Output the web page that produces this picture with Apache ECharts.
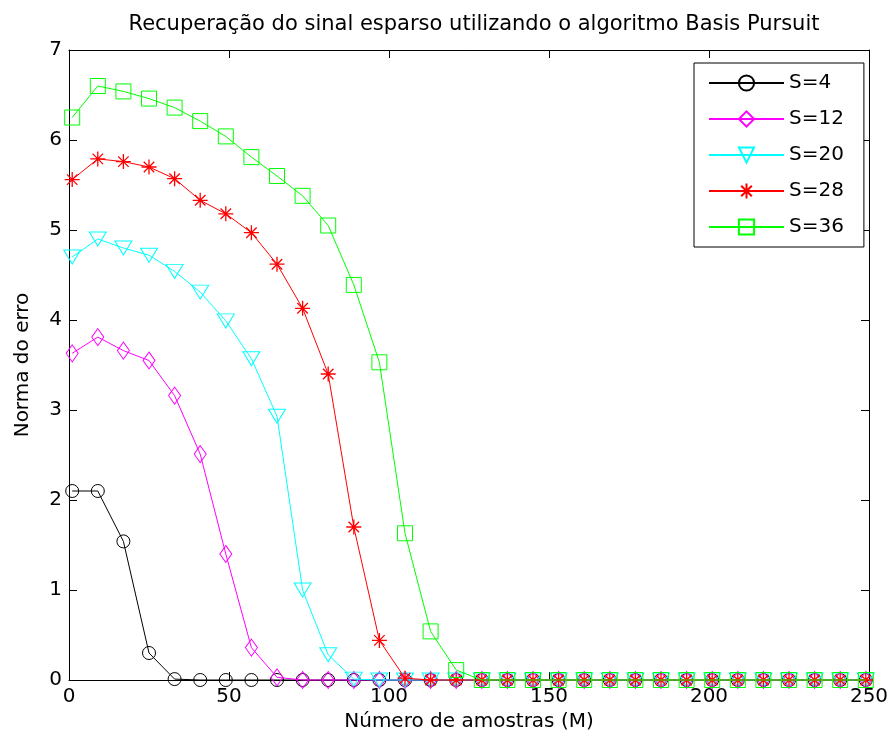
<!DOCTYPE html>
<html>
<head>
<meta charset="utf-8">
<script src="https://cdn.jsdelivr.net/npm/echarts@6/dist/echarts.min.js"></script>
<style>html,body{margin:0;padding:0;background:#fff;}#c{width:889px;height:747px;}</style>
</head>
<body>
<div id="c"></div>
<script>
const titleText = 'Recuperação do sinal esparso utilizando o algoritmo Basis Pursuit';
const xName = 'Número de amostras (M)';
const yName = 'Norma do erro';
const seriesNames = ['S=4', 'S=12', 'S=20', 'S=28', 'S=36'];
const M = [1,9,17,25,33,41,49,57,65,73,81,89,97,105,113,121,129,137,145,153,161,169,177,185,193,201,209,217,225,233,241,249];
const S4  = [2.10,2.10,1.54,0.30,0.01,0,0,0,0,0,0,0,0,0,0,0,0,0,0,0,0,0,0,0,0,0,0,0,0,0,0,0];
const S12 = [3.63,3.81,3.66,3.55,3.16,2.51,1.40,0.36,0.03,0,0,0,0,0,0,0,0,0,0,0,0,0,0,0,0,0,0,0,0,0,0,0];
const S20 = [4.70,4.90,4.80,4.72,4.54,4.31,3.99,3.57,2.93,1.00,0.28,0.01,0,0,0,0,0,0,0,0,0,0,0,0,0,0,0,0,0,0,0,0];
const S28 = [5.56,5.79,5.76,5.70,5.57,5.33,5.18,4.97,4.62,4.13,3.40,1.70,0.44,0.02,0,0,0,0,0,0,0,0,0,0,0,0,0,0,0,0,0,0];
const S36 = [6.25,6.60,6.54,6.46,6.36,6.21,6.04,5.81,5.60,5.38,5.05,4.39,3.53,1.63,0.54,0.11,0,0,0,0,0,0,0,0,0,0,0,0,0,0,0,0];
const xTicks = [0, 50, 100, 150, 200, 250];
const yTicks = [0, 1, 2, 3, 4, 5, 6, 7];

const FONT = 'DejaVu Sans';
const colors = ['#000000', '#ff00ff', '#00ffff', '#ff0000', '#00ff00'];
const symbols = [
  'circle',
  'path://M0,-10L6.5,0L0,10L-6.5,0Z',
  'path://M-10,-7L10,-7L0,10Z',
  'path://M0,-10L0,10M-10,0L10,0M-7,-7L7,7M-7,7L7,-7',
  'rect'
];
const sizes = [13, [12, 17], [17, 14], 15, 15];
const allData = [S4, S12, S20, S28, S36];

const series = allData.map((vals, i) => ({
  name: seriesNames[i],
  type: 'line',
  data: M.map((m, k) => [m, vals[k]]),
  symbol: symbols[i],
  symbolSize: sizes[i],
  showAllSymbol: true,
  clip: false,
  lineStyle: { color: colors[i], width: 1 },
  itemStyle: { color: 'rgba(0,0,0,0)', borderColor: colors[i], borderWidth: i === 3 ? 1.3 : 1 },
  emphasis: { disabled: true },
  z: 2 + i
}));

const chart = echarts.init(document.getElementById('c'), null, { renderer: 'canvas' });
const axisCommon = {
  axisLine: { show: true, onZero: false, lineStyle: { color: '#000', width: 1 } },
  axisTick: { show: true, inside: true, length: 8, lineStyle: { color: '#000' } },
  splitLine: { show: false }
};
chart.setOption({
  animation: false,
  backgroundColor: '#fff',
  title: {
    text: titleText, left: 469, top: 9, textAlign: 'center',
    textStyle: { fontFamily: FONT, fontSize: 21, fontWeight: 'normal', color: '#000' }
  },
  legend: {
    orient: 'vertical', left: 694, top: 63,
    padding: [10, 20, 10, 14],
    itemWidth: 75, itemHeight: 19, itemGap: 16,
    borderColor: '#000', borderWidth: 1, backgroundColor: '#fff',
    textStyle: { fontFamily: FONT, fontSize: 20, color: '#000' },
    data: seriesNames
  },
  grid: { left: 69, right: 20, top: 50, bottom: 67, containLabel: false, outerBoundsMode: 'none' },
  xAxis: [
    Object.assign({
      type: 'value', min: xTicks[0], max: xTicks[xTicks.length - 1], interval: 50,
      name: xName, nameLocation: 'middle', nameGap: 31,
      nameTextStyle: { fontFamily: FONT, fontSize: 20, color: '#000' },
      axisLabel: { fontFamily: FONT, fontSize: 20, color: '#000', margin: 7 }
    }, axisCommon),
    Object.assign({
      type: 'value', position: 'top', min: 0, max: 250, interval: 50,
      axisLabel: { show: false }
    }, axisCommon)
  ],
  yAxis: [
    Object.assign({
      type: 'value', min: yTicks[0], max: yTicks[yTicks.length - 1], interval: 1,
      name: yName, nameLocation: 'middle', nameGap: 36,
      nameTextStyle: { fontFamily: FONT, fontSize: 20, color: '#000' },
      axisLabel: { fontFamily: FONT, fontSize: 20, color: '#000', margin: 7 }
    }, axisCommon),
    Object.assign({
      type: 'value', position: 'right', min: 0, max: 7, interval: 1,
      axisLabel: { show: false }
    }, axisCommon)
  ],
  series: series
});
</script>
</body>
</html>
